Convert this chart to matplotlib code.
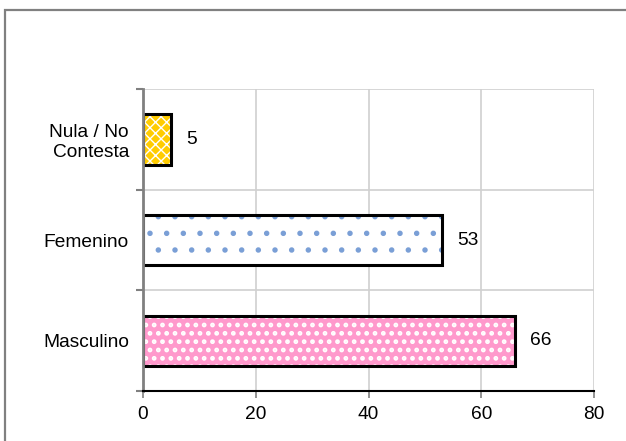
import matplotlib
matplotlib.use("Agg")
import matplotlib.pyplot as plt
from matplotlib.patches import Rectangle

categories = ["Masculino", "Femenino", "Nula / No\nContesta"]
values = [66, 53, 5]
fills = ["#ff99cc", "#ffffff", "#ffcc00"]
hatch_colors = ["#ffffff", "#7a9fd6", "#ffffff"]
hatches = ["..", ".", "xxx"]
hatch_lw = [2.2, 1.5, 1.0]
x_ticks = [0, 20, 40, 60, 80]

plt.rcParams["font.family"] = ["Liberation Sans", "DejaVu Sans"]

W, H = 626, 441
fig = plt.figure(figsize=(W / 100, H / 100), dpi=100)
ax = fig.add_axes([143 / W, 1 - 391 / H, (594 - 143) / W, (391 - 89) / H])

FS = 13.8
ypos = [i + 0.5 for i in range(len(categories))]
for y, v, fc, hc, h, hl in zip(ypos, values, fills, hatch_colors, hatches, hatch_lw):
    with plt.rc_context({"hatch.linewidth": hl}):
        ax.barh(y, v, height=0.5, color=fc, edgecolor=hc, hatch=h, linewidth=0, zorder=3)
    ax.barh(y, v, height=0.5, facecolor="none", edgecolor="black", linewidth=2.2, zorder=4)
    ax.annotate(str(v), xy=(v, y), xytext=(11, 0), textcoords="offset points",
                ha="left", va="center", fontsize=FS, color="black")

ax.set_xlim(0, 80)
ax.set_ylim(0, 3)
ax.set_xticks(x_ticks)
ax.set_xticklabels([str(t) for t in x_ticks], fontsize=FS)
ax.set_yticks([0, 1, 2, 3])
ax.set_yticklabels([])
ax.set_yticks(ypos, minor=True)
ax.set_yticklabels(categories, minor=True, fontsize=FS)
ax.tick_params(axis="y", which="minor", length=0, pad=10)
ax.tick_params(axis="y", which="major", length=5, width=1.5, color="#808080")
ax.tick_params(axis="x", which="major", length=5, width=1.2, color="#808080", pad=6)

ax.grid(True, which="major", color="#d0d0d0", linewidth=1.2, zorder=0)
ax.set_axisbelow(True)
for s in ["top", "right"]:
    ax.spines[s].set_visible(False)
ax.spines["left"].set_color("#808080")
ax.spines["left"].set_linewidth(2)
ax.spines["bottom"].set_color("black")
ax.spines["bottom"].set_linewidth(1.5)
ax.spines["bottom"].set_zorder(5)
ax.spines["left"].set_zorder(5)

frame = Rectangle((5 / W, -0.2), 1.2, 1 - 10 / H + 0.2, transform=fig.transFigure,
                  facecolor="none", edgecolor="#808080", linewidth=1.6, clip_on=False)
fig.patches.append(frame)

fig.savefig("out.png", dpi=100)
